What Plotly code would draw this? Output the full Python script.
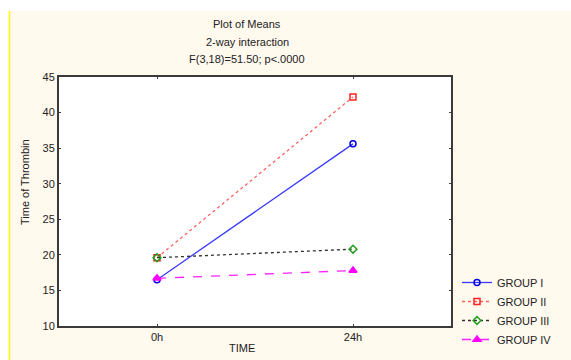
import plotly.graph_objects as go

times = ["0h", "24h"]
group_names = ["GROUP I", "GROUP II", "GROUP III", "GROUP IV"]
group_i = [16.5, 35.6]
group_ii = [19.6, 42.2]
group_iii = [19.6, 20.8]
group_iv = [16.7, 17.8]
y_ticks = [10, 15, 20, 25, 30, 35, 40, 45]

L, R, T, B = 59, 451, 77, 326
W, H = 571, 360
def px_x(p):
    return (p - L) / (R - L)
def px_y(p):
    return (B - p) / (B - T)

fig = go.Figure()
styles = [
    (group_i, "#3a3aff", "solid", "circle-open", "#0000e0", 6),
    (group_ii, "#ff6060", "dot", "square-open", "#ff2020", 6),
    (group_iii, "#303030", "dot", "diamond-open", "#20a020", 6),
    (group_iv, "#ff20ff", "dash", "triangle-up", "#ff00ff", 7),
]
for name, (vals, lc, dash, sym, mc, ms) in zip(group_names, styles):
    fig.add_trace(go.Scatter(
        x=times, y=vals, name=name, mode="lines+markers",
        line=dict(color=lc, width=1.3, dash=dash),
        marker=dict(symbol=sym, size=ms, color=mc, line=dict(color=mc, width=1.5)),
    ))

fig.update_layout(
    width=W, height=H,
    margin=dict(l=L, r=W - R, t=T, b=H - B, autoexpand=False),
    paper_bgcolor="#FFF9EE",
    plot_bgcolor="white",
    font=dict(family="Liberation Sans, Arial", size=11, color="#222"),
    showlegend=True,
    legend=dict(
        x=px_x(457), y=px_y(268), xanchor="left", yanchor="top",
        bgcolor="rgba(0,0,0,0)", font=dict(size=11, color="#222"),
        itemwidth=30, tracegroupgap=0,
    ),
    xaxis=dict(
        type="category", range=[-0.5, 1.5], showgrid=False, zeroline=False,
        showline=True, mirror="ticks", linecolor="#3a3a3a", linewidth=2,
        ticks="inside", ticklen=2, tickcolor="#3a3a3a",
        tickfont=dict(size=11, color="#222"),
    ),
    yaxis=dict(
        range=[10, 45], tickvals=y_ticks, showgrid=False, zeroline=False,
        showline=True, mirror="ticks", linecolor="#3a3a3a", linewidth=2,
        ticks="inside", ticklen=2, tickcolor="#3a3a3a",
        tickfont=dict(size=11, color="#222"),
    ),
    shapes=[
        dict(type="rect", xref="paper", yref="paper", x0=px_x(0), x1=px_x(W), y0=px_y(11), y1=px_y(0),
             fillcolor="white", line=dict(width=0), layer="below"),
        dict(type="rect", xref="paper", yref="paper", x0=px_x(0), x1=px_x(9), y0=px_y(H), y1=px_y(0),
             fillcolor="white", line=dict(width=0), layer="below"),
        dict(type="line", xref="paper", yref="paper", x0=px_x(9.5), x1=px_x(9.5), y0=px_y(H), y1=px_y(11),
             line=dict(color="#FFFF00", width=1.5)),
    ],
    annotations=[
        dict(text="Plot of Means", xref="paper", yref="paper", x=px_x(247), y=px_y(24),
             showarrow=False, xanchor="center", yanchor="middle", font=dict(size=11)),
        dict(text="2-way interaction", xref="paper", yref="paper", x=px_x(247), y=px_y(42),
             showarrow=False, xanchor="center", yanchor="middle", font=dict(size=11)),
        dict(text="F(3,18)=51.50; p<.0000", xref="paper", yref="paper", x=px_x(247), y=px_y(59),
             showarrow=False, xanchor="center", yanchor="middle", font=dict(size=11)),
        dict(text="Time of Thrombin", xref="paper", yref="paper", x=px_x(25), y=px_y(182),
             showarrow=False, xanchor="center", yanchor="middle", textangle=-90, font=dict(size=11)),
        dict(text="TIME", xref="paper", yref="paper", x=px_x(242), y=px_y(348),
             showarrow=False, xanchor="center", yanchor="middle", font=dict(size=11)),
    ],
)

fig.write_html("out.html", config={"displayModeBar": False},
               post_script="document.body.style.margin='0px';document.body.style.padding='0px';")
